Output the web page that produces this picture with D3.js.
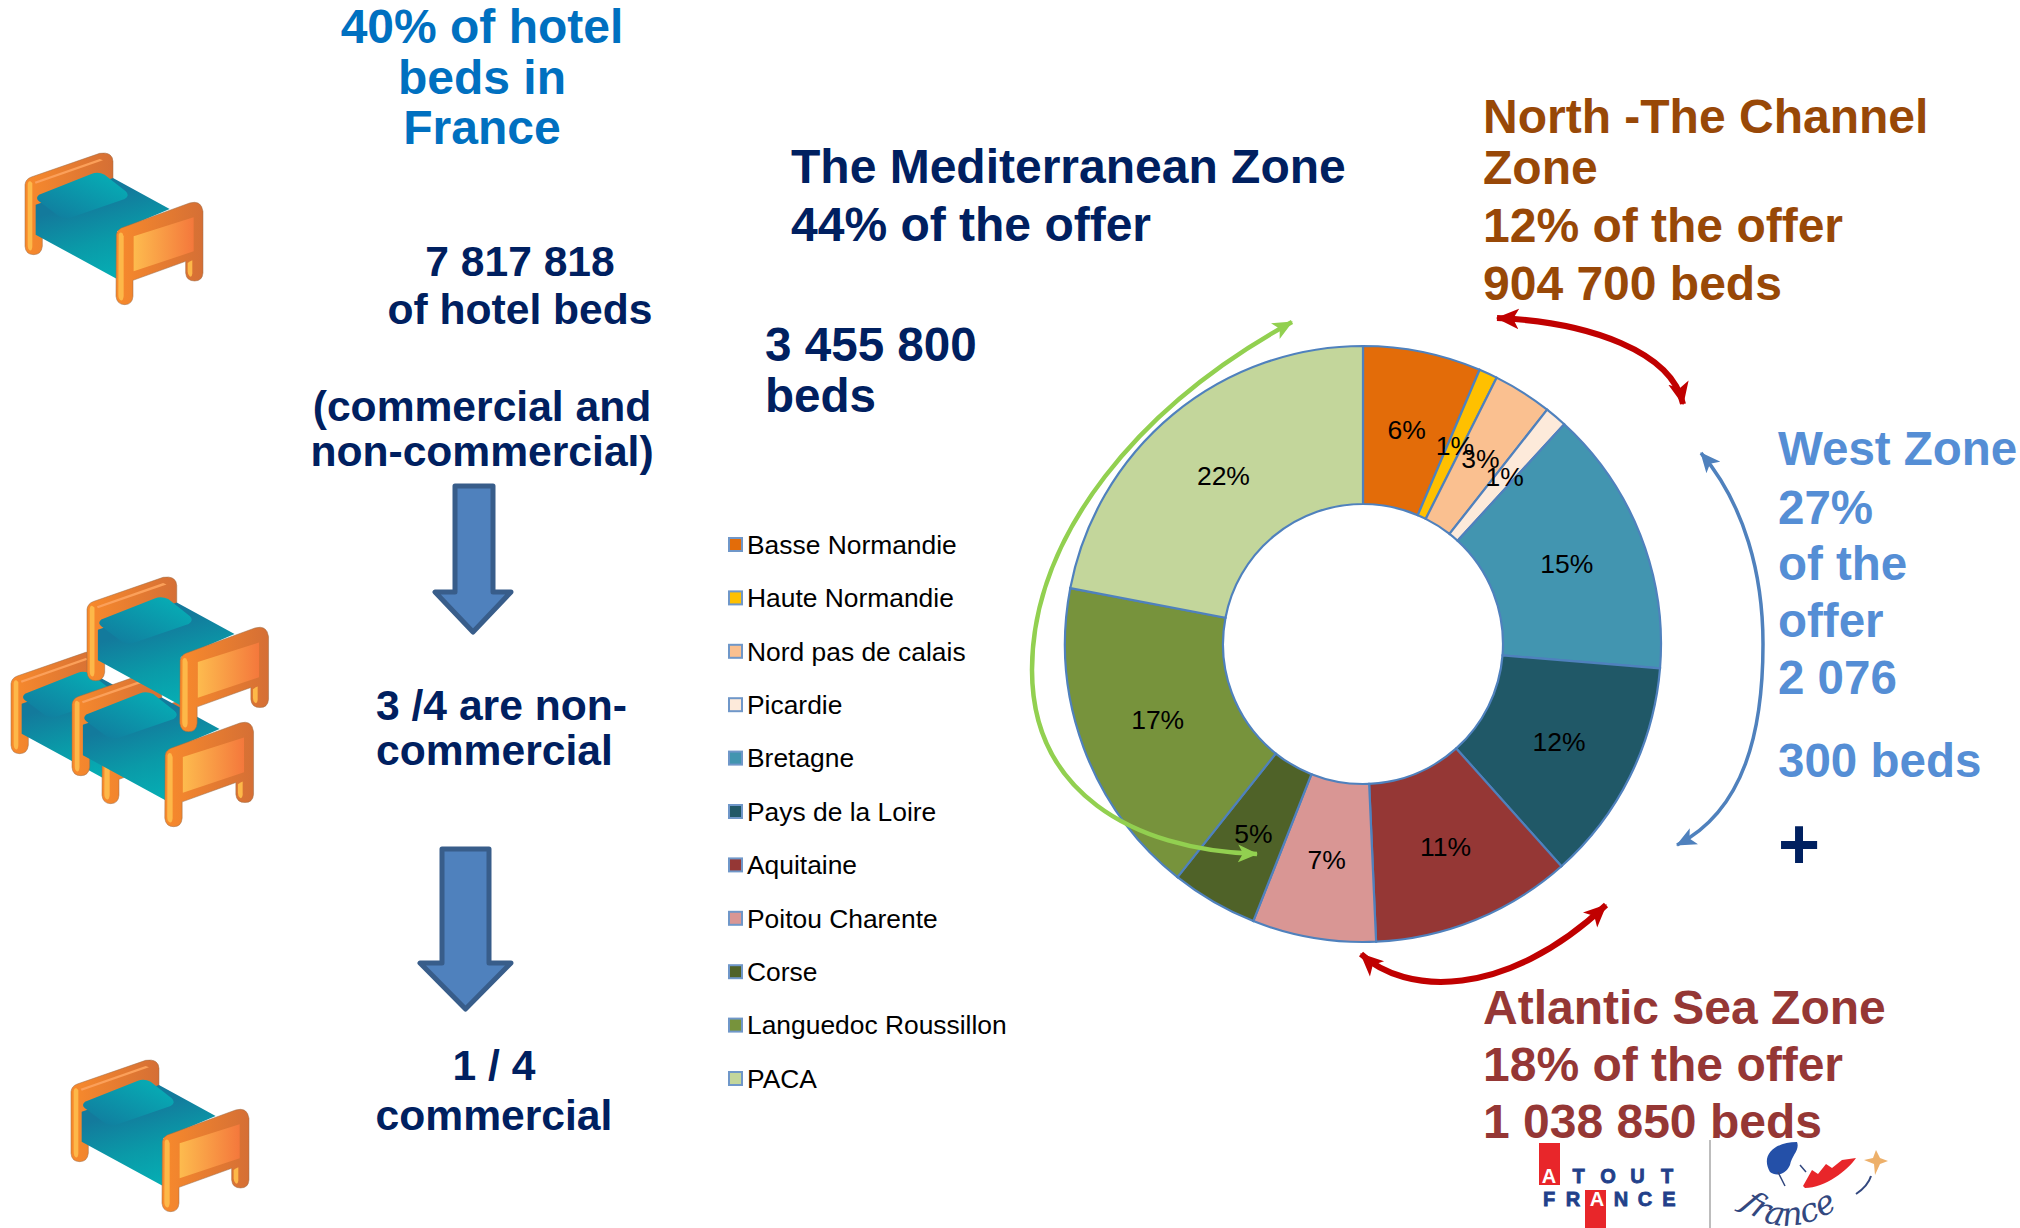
<!DOCTYPE html>
<html>
<head>
<meta charset="utf-8">
<title>Hotel beds in France</title>
<script src="https://cdnjs.cloudflare.com/ajax/libs/d3/7.8.5/d3.min.js"></script>
<style>
html, body { margin: 0; padding: 0; background: #fff; }
svg { display: block; font-family: "Liberation Sans", Arial, sans-serif; }
.big { font-weight: bold; }
</style>
</head>
<body>
<svg width="2020" height="1228"></svg>
<script>
// donut data
var regions = ["Basse Normandie", "Haute Normandie", "Nord pas de calais", "Picardie", "Bretagne",
    "Pays de la Loire", "Aquitaine", "Poitou Charente", "Corse", "Languedoc Roussillon", "PACA"];
var shares = [6.4, 1.0, 3.2, 1.2, 14.5, 12.1, 10.9, 6.7, 4.7, 17.3, 22.0];
var shareLabels = ["6%", "1%", "3%", "1%", "15%", "12%", "11%", "7%", "5%", "17%", "22%"];
var regionColors = ["#E36C09", "#FFC000", "#FAC090", "#FDEADA", "#4295B0", "#205867",
    "#953735", "#D99694", "#4F6228", "#77933C", "#C3D69B"];

// text blocks
var hotelShare = ["40% of hotel", "beds in", "France"];
var hotelBeds = ["7 817 818", "of hotel beds"];
var bedKinds = ["(commercial and", "non-commercial)"];
var nonCommercial = ["3 /4 are non-", "commercial"];
var commercial = ["1 / 4", "commercial"];
var medZone = ["The Mediterranean Zone", "44% of the offer"];
var medBeds = ["3 455 800", "beds"];
var northZone = ["North -The Channel", "Zone", "12% of the offer", "904 700 beds"];
var westZone = ["West Zone", "27%", "of the", "offer", "2 076", "300 beds"];
var atlanticZone = ["Atlantic Sea Zone", "18% of the offer", "1 038 850 beds"];

var svg = d3.select("svg");
var defs = svg.append("defs");

function gradient(id, x1, y1, x2, y2, stops) {
    var g = defs.append("linearGradient").attr("id", id)
        .attr("x1", x1).attr("y1", y1).attr("x2", x2).attr("y2", y2);
    stops.forEach(function(s, i) {
        g.append("stop").attr("offset", i / (stops.length - 1)).attr("stop-color", s);
    });
}
gradient("sheet", 0.35, 0.25, 0.65, 1, ["#137a9c", "#0a9aa8", "#05b0b5"]);
gradient("pillow", 0, 1, 1, 0, ["#12789c", "#05b3b8"]);
gradient("panel", 0, 0, 1, 0, ["#fdbb4e", "#f4783c"]);
gradient("wood", 0, 0, 1, 0, ["#f88a2c", "#d56f35"]);

// bed icon, drawn once in zoomed units and reused
var bed = defs.append("g").attr("id", "bed").attr("transform", "scale(0.3333) translate(-76,-100)");
var edge = "#9a6a45";
bed.append("path") // headboard
    .attr("d", "M76,195 Q78,178 95,172 L300,101 Q338,95 340,125 L340,215 L128,285 L128,380 Q125,405 102,405 Q78,405 76,380 Z")
    .attr("fill", "url(#wood)").attr("stroke", edge).attr("stroke-width", 1.5);
bed.append("path").attr("d", "M84,195 Q85,182 92,185 L98,190 L98,380 Q97,395 90,392 Q84,388 84,375 Z").attr("fill", "#fdb849");
bed.append("path").attr("d", "M105,186 L300,118 L310,122 L108,192 Z").attr("fill", "#fba05a");
bed.append("path") // mattress
    .attr("d", "M108,255 L340,175 L510,268 L352,335 L352,478 L108,345 Z")
    .attr("fill", "url(#sheet)");
bed.append("path") // pillow
    .attr("d", "M118,225 L275,163 Q295,155 315,165 L378,215 Q392,228 375,238 L210,295 Q192,298 178,290 L118,245 Q106,235 118,225 Z")
    .attr("fill", "url(#pillow)");
bed.append("path") // footboard
    .attr("d", "M350,345 Q352,332 365,325 L570,250 Q605,240 610,275 L610,460 Q608,484 585,484 Q560,484 558,460 L558,425 L400,482 L400,530 Q398,555 375,555 Q352,555 349,530 Z")
    .attr("fill", "url(#wood)").attr("stroke", edge).attr("stroke-width", 1.5);
bed.append("path").attr("d", "M357,345 Q360,335 368,340 L372,350 L372,530 Q370,546 363,542 Q356,538 356,525 Z").attr("fill", "#fdb849");
bed.append("path").attr("d", "M402,350 L582,293 L582,395 L402,455 Z").attr("fill", "url(#panel)");
bed.append("path").attr("d", "M564,430 Q570,425 578,422 L578,462 Q576,475 570,470 Q564,465 564,455 Z").attr("fill", "#fdb849");

function placeBed(x, y, k) {
    svg.append("use").attr("href", "#bed")
        .attr("transform", "translate(" + x + "," + y + ") scale(" + (k || 1) + ")");
}
placeBed(25, 153);
placeBed(11, 652);
placeBed(72, 672, 1.02);
placeBed(87, 577, 1.02);
placeBed(71, 1060);

// multi line text helper
function addText(lines, x, ys, size, color, anchor) {
    var t = svg.append("g").attr("class", "big")
        .attr("font-size", size).attr("fill", color).attr("text-anchor", anchor || "start");
    t.selectAll("text").data(lines).enter().append("text")
        .attr("x", x)
        .attr("y", function(d, i) { return ys[i]; })
        .text(function(d) { return d; });
}
var navy = "#002060";
addText(hotelShare, 482, [43, 94, 144], 48, "#0070C0", "middle");
addText(hotelBeds, 520, [276, 324], 42.6, navy, "middle");
addText(bedKinds, 482, [421, 466], 42.6, navy, "middle");
addText(nonCommercial, 376, [720, 765], 42.6, navy);
addText(commercial, 494, [1080, 1130], 42.6, navy, "middle");
addText(medZone, 791, [183, 241], 48, navy);
addText(medBeds, 765, [361, 412], 47.6, navy);
addText(northZone, 1483, [133, 184, 242, 300], 48, "#984807");
addText(westZone, 1778, [465, 524, 580, 637, 694, 777], 47.5, "#558ED5");
addText(atlanticZone, 1483, [1024, 1081, 1138], 48, "#953735");
addText(["+"], 1799, [869], 72, navy, "middle");

// block arrows
function blockArrow(x0, x1, xs0, xs1, y0, yh, y1) {
    var xm = (x0 + x1) / 2;
    svg.append("path")
        .attr("d", d3.line()([[xs0, y0], [xs1, y0], [xs1, yh], [x1, yh], [xm, y1], [x0, yh], [xs0, yh]]) + "Z")
        .attr("fill", "#4F81BD").attr("stroke", "#385D8A")
        .attr("stroke-width", 5).attr("stroke-linejoin", "round");
}
blockArrow(435, 511, 455, 493, 486, 592, 632);
blockArrow(420, 511, 442, 489, 849, 963, 1009);

// donut
var cx = 1363, cy = 644, outerR = 298, innerR = 140;
var color = d3.scaleOrdinal().domain(regions).range(regionColors);
var pie = d3.pie().sort(null).value(function(d) { return d; });
var arc = d3.arc().innerRadius(innerR).outerRadius(outerR);
var donut = svg.append("g").attr("transform", "translate(" + cx + "," + cy + ")");

donut.selectAll("path").data(pie(shares)).enter().append("path")
    .attr("d", arc)
    .attr("fill", function(d, i) { return color(regions[i]); })
    .attr("stroke", "#4F81BD")
    .attr("stroke-width", 2.2);

donut.selectAll("text").data(pie(shares)).enter().append("text")
    .attr("transform", function(d) { return "translate(" + arc.centroid(d) + ")"; })
    .attr("text-anchor", "middle")
    .attr("dy", "0.35em")
    .attr("font-size", 26.5)
    .attr("fill", "#000")
    .text(function(d, i) { return shareLabels[i]; });

// legend
var legendY = d3.scalePoint().domain(regions).range([545, 1079]);
var legend = svg.append("g").selectAll("g").data(regions).enter().append("g")
    .attr("transform", function(d) { return "translate(729," + legendY(d) + ")"; });
legend.append("rect")
    .attr("x", 0).attr("y", -7).attr("width", 13).attr("height", 13)
    .attr("fill", function(d) { return color(d); })
    .attr("stroke", "#6F97C9").attr("stroke-width", 2);
legend.append("text")
    .attr("x", 18).attr("dy", "0.33em")
    .attr("font-size", 26.4).attr("fill", "#000")
    .text(function(d) { return d; });

// curved double arrows round the donut
function marker(id, col, size) {
    defs.append("marker").attr("id", id)
        .attr("markerUnits", "userSpaceOnUse")
        .attr("viewBox", "0 0 20 20").attr("refX", 19).attr("refY", 10)
        .attr("markerWidth", size).attr("markerHeight", size)
        .attr("orient", "auto-start-reverse")
        .append("path").attr("d", "M0,1 L20,10 L0,19 L5,10 Z").attr("fill", col);
}
marker("headGreen", "#92D050", 20);
marker("headRed", "#C00000", 23);
marker("headBlue", "#4F81BD", 20);

function curve(d, col, w, head) {
    svg.append("path").attr("d", d).attr("fill", "none")
        .attr("stroke", col).attr("stroke-width", w)
        .attr("marker-start", "url(#" + head + ")")
        .attr("marker-end", "url(#" + head + ")");
}
curve("M1292,322 C1140,405 1032,535 1032,670 C1032,790 1130,850 1257,854", "#92D050", 4.5, "headGreen");
curve("M1497,318 C1590,322 1672,352 1683,404", "#C00000", 6, "headRed");
curve("M1701,453 C1745,505 1763,575 1763,644 C1763,730 1745,810 1677,845", "#4F81BD", 3.5, "headBlue");
curve("M1361,954 C1405,995 1505,1000 1606,905", "#C00000", 6, "headRed");

// logos
var logo = svg.append("g");
logo.append("rect").attr("x", 1539).attr("y", 1143).attr("width", 21).attr("height", 42).attr("fill", "#E8262A");
logo.append("rect").attr("x", 1585).attr("y", 1190).attr("width", 21).attr("height", 38).attr("fill", "#E8262A");
function logoWord(word, y, x0, step, whiteAt) {
    logo.append("g").selectAll("text").data(word.split("")).enter().append("text")
        .attr("x", function(d, i) { return x0 + i * step; })
        .attr("y", y)
        .attr("text-anchor", "middle")
        .attr("font-size", 20).attr("font-weight", "bold")
        .attr("stroke-width", 0.8)
        .attr("stroke", function(d, i) { return i === whiteAt ? "none" : "#22408A"; })
        .attr("fill", function(d, i) { return i === whiteAt ? "#fff" : "#22408A"; })
        .text(function(d) { return d; });
}
logoWord("ATOUT", 1183, 1549, 29.5, 0);
logoWord("FRANCE", 1206, 1549, 24, 2);
logo.append("line").attr("x1", 1710).attr("x2", 1710).attr("y1", 1140).attr("y2", 1228)
    .attr("stroke", "#bdbdbd").attr("stroke-width", 2);
logo.append("path") // hair
    .attr("d", "M1770,1172 C1760,1155 1775,1142 1797,1142 C1800,1150 1792,1155 1790,1165 C1785,1176 1775,1176 1770,1172 Z")
    .attr("fill", "#2450A8");
logo.append("path") // flame
    .attr("d", "M1803,1186 L1812,1170 L1818,1174 L1826,1164 L1832,1168 L1842,1160 L1856,1158 C1848,1170 1825,1188 1805,1188 Z")
    .attr("fill", "#E8262A");
logo.append("path") // star
    .attr("d", "M1876,1150 L1880,1158 L1888,1161 L1880,1164 L1875,1175 L1874,1164 L1864,1160 L1873,1158 Z")
    .attr("fill", "#EDB06A");
logo.append("path") // face
    .attr("d", "M1778,1172 L1785,1186 M1800,1165 L1806,1172")
    .attr("fill", "none").attr("stroke", "#33487F").attr("stroke-width", 1.5);
defs.append("path").attr("id", "franceBase").attr("d", "M1740,1206 Q1790,1252 1862,1190");
logo.append("text")
    .attr("font-family", "DejaVu Serif").attr("font-style", "italic")
    .attr("font-size", 33).attr("fill", "#33487F")
    .append("textPath").attr("href", "#franceBase").text("france");
logo.append("path").attr("d", "M1856,1194 Q1868,1186 1871,1176").attr("fill", "none")
    .attr("stroke", "#33487F").attr("stroke-width", 2);
</script>
</body>
</html>
